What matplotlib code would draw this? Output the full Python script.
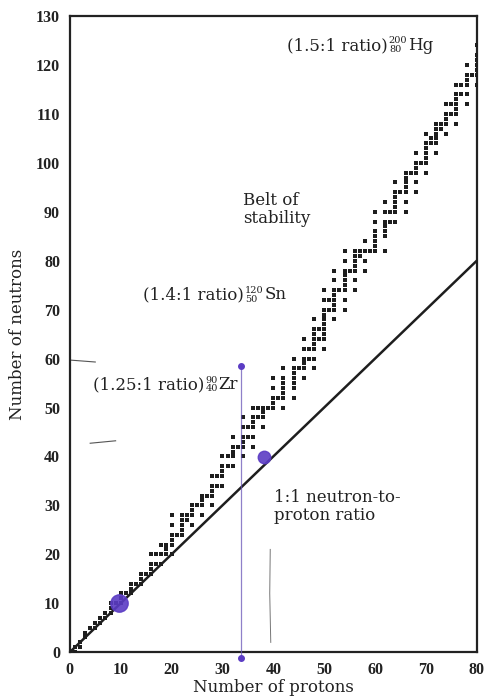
import matplotlib
matplotlib.use("Agg")
import matplotlib.pyplot as plt
import numpy as np

# Stable nuclides: proton number Z -> neutron numbers N
stable = {
    1: [0, 1], 2: [1, 2], 3: [3, 4], 4: [5], 5: [5, 6], 6: [6, 7], 7: [7, 8],
    8: [8, 9, 10], 9: [10], 10: [10, 11, 12], 11: [12], 12: [12, 13, 14],
    13: [14], 14: [14, 15, 16], 15: [16], 16: [16, 17, 18, 20], 17: [18, 20],
    18: [18, 20, 22], 19: [20, 21, 22], 20: [20, 22, 23, 24, 26, 28], 21: [24],
    22: [24, 25, 26, 27, 28], 23: [27, 28], 24: [26, 28, 29, 30], 25: [30],
    26: [28, 30, 31, 32], 27: [32], 28: [30, 32, 33, 34, 36], 29: [34, 36],
    30: [34, 36, 37, 38, 40], 31: [38, 40], 32: [38, 40, 41, 42, 44], 33: [42],
    34: [40, 42, 43, 44, 46, 48], 35: [44, 46], 36: [42, 44, 46, 47, 48, 50],
    37: [48, 50], 38: [46, 48, 49, 50], 39: [50], 40: [50, 51, 52, 54, 56],
    41: [52], 42: [50, 52, 53, 54, 55, 56, 58], 44: [52, 54, 55, 56, 57, 58, 60],
    45: [58], 46: [56, 58, 59, 60, 62, 64], 47: [60, 62],
    48: [58, 60, 62, 63, 64, 65, 66, 68], 49: [64, 66],
    50: [62, 64, 65, 66, 67, 68, 69, 70, 72, 74], 51: [70, 72],
    52: [68, 70, 71, 72, 73, 74, 76, 78], 53: [74],
    54: [70, 72, 74, 75, 76, 77, 78, 80, 82], 55: [78],
    56: [74, 76, 78, 79, 80, 81, 82], 57: [81, 82], 58: [78, 80, 82, 84],
    59: [82], 60: [82, 83, 84, 85, 86, 88, 90], 62: [82, 85, 86, 87, 88, 90, 92],
    63: [88, 90], 64: [88, 90, 91, 92, 93, 94, 96], 65: [94],
    66: [90, 92, 94, 95, 96, 97, 98], 67: [98], 68: [94, 96, 98, 99, 100, 102],
    69: [100], 70: [98, 100, 101, 102, 103, 104, 106], 71: [104, 105],
    72: [102, 104, 105, 106, 107, 108], 73: [107, 108], 74: [106, 108, 109, 110, 112],
    75: [110, 112], 76: [108, 110, 111, 112, 113, 114, 116], 77: [114, 116],
    78: [112, 114, 116, 117, 118, 120], 79: [118], 80: [116, 118, 119, 120, 121, 122, 124],
}
protons = [z for z, ns in stable.items() for _ in ns]
neutrons = [n for z, ns in stable.items() for n in ns]

x_ticks = [0, 10, 20, 30, 40, 50, 60, 70, 80]
y_ticks = [0, 10, 20, 30, 40, 50, 60, 70, 80, 90, 100, 110, 120, 130]
ratio_line_x = [0, 80]
ratio_line_y = [0, 80]
marked_points_x = [9.6, 38.2]
marked_points_y = [10, 39.8]
marked_sizes = [12.5, 9]
pen_line_x = [33.7, 33.7]
pen_line_y = [-1.2, 58.5]

# ratio annotations: prefix, mass number, atomic number, symbol, anchor
ratio_prefix = ["(1.5:1 ratio)", "(1.4:1 ratio)", "(1.25:1 ratio)"]
ratio_mass = ["200", "120", "90"]
ratio_z = ["80", "50", "40"]
ratio_symbol = ["Hg", "Sn", "Zr"]
ratio_pos = [(42.6, 124), (14.3, 73), (4.5, 54.7)]

serif = ["DejaVu Serif"]
tick_font = ["Liberation Serif", "DejaVu Serif"]
purple = "#5b3cc4"
ink = "#1e1e1e"

fig = plt.figure(figsize=(4.85, 6.99), dpi=100)
ax = fig.add_axes([0.144, 0.067, 0.839, 0.910])
ax.set_xlim(0, 80)
ax.set_ylim(0, 130)

ax.plot(ratio_line_x, ratio_line_y, color=ink, lw=1.8, zorder=3)
ax.scatter(protons, neutrons, marker="s", s=6, color=ink, linewidths=0, zorder=4)

# purple pen marks
ax.plot(pen_line_x, pen_line_y, color="#6a55b8", lw=0.9, alpha=0.75, zorder=5, clip_on=False)
ax.plot(pen_line_x, pen_line_y, "o", color=purple, ms=4, zorder=6, clip_on=False)
for xm, ym, sz in zip(marked_points_x, marked_points_y, marked_sizes):
    ax.plot([xm], [ym], "o", color=purple, ms=sz, zorder=6, alpha=0.9)

# faint pencil marks
ax.plot([39.4, 39.3, 39.5], [21, 12, 2], color="#777777", lw=0.7, zorder=2)
ax.plot([0, 5], [59.7, 59.3], color="#555555", lw=0.8, zorder=2)
ax.plot([4, 9], [42.7, 43.2], color="#555555", lw=0.8, zorder=2)

tkw = dict(fontfamily=tick_font, fontsize=11.5, fontweight="bold", color="#222222")
ax.set_xticks(x_ticks)
ax.set_yticks(y_ticks)
ax.set_xticklabels([str(v) for v in x_ticks], **tkw)
ax.set_yticklabels([str(v) for v in y_ticks], **tkw)
ax.tick_params(length=0, pad=7)
for sp in ax.spines.values():
    sp.set_linewidth(1.6)
    sp.set_color("#222222")

ax.set_xlabel("Number of protons", fontfamily=serif, fontsize=12, color="#222222", labelpad=1)
ax.set_ylabel("Number of neutrons", fontfamily=serif, fontsize=12, color="#222222", labelpad=7)

akw = dict(fontfamily=serif, fontsize=12, color="#222222")
skw = dict(fontfamily=serif, fontsize=7, color="#222222", ha="left")

for pre, mass, z, sym, (tx, ty) in zip(ratio_prefix, ratio_mass, ratio_z, ratio_symbol, ratio_pos):
    t = ax.text(tx, ty, pre, va="center", ha="left", **akw)
    sup = ax.annotate(mass, xy=(1, 0.5), xycoords=t, xytext=(1, 0),
                      textcoords="offset points", va="bottom", **skw)
    ax.annotate(z, xy=(1, 0.52), xycoords=t, xytext=(1.5, 0),
                textcoords="offset points", va="top", **skw)
    ax.annotate(sym, xy=(1, 0), xycoords=(sup, t), xytext=(0.5, 0),
                textcoords="offset points", va="bottom", ha="left", **akw)

ax.text(34.0, 90.5, "Belt of\nstability", linespacing=1.05, va="center", ha="left", **akw)
ax.text(40.2, 29.8, "1:1 neutron-to-\nproton ratio", linespacing=1.05, va="center", ha="left", **akw)

fig.savefig("out.png", dpi=100)
